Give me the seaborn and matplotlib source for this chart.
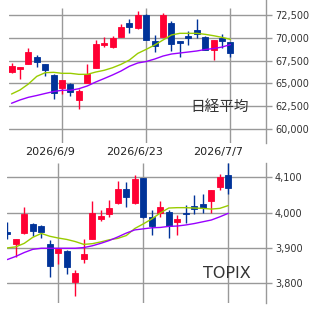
import numpy as np
import pandas as pd
import matplotlib
matplotlib.use("Agg")
import matplotlib.pyplot as plt
import matplotlib.transforms as mtransforms
from matplotlib.ticker import FuncFormatter
import seaborn as sns

# 営業日 2026/6/1 - 2026/7/7
dates = ["6/1", "6/2", "6/3", "6/4", "6/5", "6/8", "6/9", "6/10", "6/11", "6/12",
         "6/15", "6/16", "6/17", "6/18", "6/19", "6/22", "6/23", "6/24", "6/25", "6/26",
         "6/29", "6/30", "7/1", "7/2", "7/3", "7/6", "7/7"]
tick_dates = ["6/9", "6/23", "7/7"]
tick_labels = ["2026/6/9", "2026/6/23", "2026/7/7"]

# 日経平均
n225_open = [66290, 66580, 67160, 67890, 67130, 65930, 64540, 64940, 63230, 65050,
             66690, 69200, 68980, 70080, 71600, 71060, 72480, 69640, 70080, 71600,
             69640, 70220, 70870, 70110, 68690, 70000, 69530]
n225_close = [66900, 66800, 68440, 67350, 66470, 63990, 65380, 64100, 64180, 66030,
              69310, 69420, 69970, 71170, 71170, 72480, 69780, 69090, 72480, 69310,
              69420, 70000, 70440, 68690, 69780, 69670, 68330]
n225_high = [67240, 66820, 68880, 68110, 67150, 66040, 65400, 65060, 64400, 67130,
             69750, 70080, 70190, 71500, 72040, 72910, 72560, 70290, 72700, 71820,
             69660, 70760, 72070, 70220, 69800, 70440, 69560]
n225_low = [66110, 65490, 67120, 66800, 65820, 63340, 63880, 63670, 62250, 65030,
            66670, 68980, 68880, 70060, 70510, 70950, 69760, 68440, 70060, 68550,
            67890, 69240, 70000, 68670, 67600, 68910, 67890]
n225_ma_short = [63850, 64290, 64940, 65780, 66180, 66220, 66110, 66110, 66000, 66000,
                 66250, 66440, 66720, 67090, 67560, 68290, 68730, 69200, 69750, 70300,
                 70480, 70480, 70480, 70370, 70220, 70040, 69820]
n225_ma_long = [62840, 63200, 63490, 63690, 63910, 64120, 64260, 64260, 64430, 64730,
                65160, 65540, 65930, 66360, 66880, 67240, 67400, 67670, 68000, 68220,
                68330, 68440, 68550, 68710, 68820, 68980, 69250]

# TOPIX
topix_open = [3946, 3911, 3942, 3968, 3962, 3911, 3886, 3891, 3804, 3869,
              3925, 3982, 3996, 4027, 4067, 4027, 4098, 3988, 3999, 4002,
              3974, 3999, 4019, 4024, 4033, 4073, 4106]
topix_close = [3940, 3925, 3996, 3948, 3945, 3849, 3897, 3846, 3829, 3883,
               3999, 3990, 4013, 4067, 4044, 4095, 3988, 3962, 4016, 3962,
               3982, 3996, 4010, 4013, 4064, 4101, 4070]
topix_high = [3972, 3926, 4016, 3971, 3965, 3922, 3900, 3894, 3838, 3925,
              4033, 4008, 4036, 4090, 4087, 4107, 4099, 4008, 4033, 4008,
              3993, 4022, 4050, 4053, 4065, 4109, 4140]
topix_low = [3925, 3874, 3940, 3934, 3928, 3818, 3855, 3826, 3765, 3857,
             3924, 3976, 3988, 4024, 4016, 4024, 3986, 3937, 3988, 3928,
             3937, 3971, 3996, 3999, 3999, 4064, 4053]
topix_ma_short = [3900, 3903, 3913, 3930, 3941, 3933, 3928, 3924, 3918, 3910,
                  3912, 3917, 3923, 3927, 3935, 3955, 3968, 3982, 3999, 4013,
                  4014, 4014, 4013, 4012, 4010, 4012, 4020]
topix_ma_long = [3867, 3876, 3887, 3896, 3899, 3899, 3899, 3899, 3899, 3901,
                 3906, 3913, 3921, 3931, 3942, 3951, 3954, 3957, 3958, 3961,
                 3962, 3965, 3969, 3974, 3979, 3988, 3998]

UP = "#ff0033"
DOWN = "#003399"
MA_S = "#99cc00"
MA_L = "#9900ff"
GRID = "#999999"

sns.set_style("white")
plt.rcParams['font.family'] = ['DejaVu Sans', 'Noto Sans CJK JP']

W, H = 324, 309
fig = plt.figure(figsize=(W / 100, H / 100), dpi=100)


def px_axes(left, top, right, bottom):
    return fig.add_axes([left / W, 1 - bottom / H, (right - left) / W, (bottom - top) / H])


def draw_panel(ax, o, c, h, l, ma_s, ma_l, width):
    df = pd.DataFrame({"date": dates, "open": o, "close": c, "high": h, "low": l,
                       "ma_s": ma_s, "ma_l": ma_l})
    df["x"] = np.arange(len(df))
    df["up"] = df["close"] >= df["open"]
    col = np.where(df["up"], UP, DOWN)
    ax.vlines(df["x"], df["low"], df["high"], colors=col, lw=1, zorder=2)
    body = (df["close"] - df["open"]).abs()
    ax.bar(df["x"], body, bottom=df[["open", "close"]].min(axis=1), width=width,
           color=col, edgecolor=col, lw=0.6, zorder=3)
    sns.lineplot(data=df, x="x", y="ma_s", color=MA_S, lw=1, ax=ax, zorder=4)
    sns.lineplot(data=df, x="x", y="ma_l", color=MA_L, lw=1, ax=ax, zorder=4)
    return df


def style_axes(ax, yticks, fmt):
    ax.set_xlabel("")
    ax.set_ylabel("")
    for s in ["left", "top", "bottom"]:
        ax.spines[s].set_visible(False)
    ax.spines["right"].set_color(GRID)
    ax.spines["right"].set_linewidth(1)
    ax.yaxis.tick_right()
    ax.set_yticks(yticks)
    ax.yaxis.set_major_formatter(FuncFormatter(lambda v, p: fmt.format(int(v))))
    ax.tick_params(axis="y", length=4, width=1, color=GRID, pad=2.5,
                   labelsize=7, labelcolor="#333333")
    ax.grid(axis="y", color=GRID, lw=1)
    ax.set_axisbelow(True)


# 上: 日経平均
ax1 = px_axes(9, 0, 266, 143)
df1 = draw_panel(ax1, n225_open, n225_close, n225_high, n225_low,
                 n225_ma_short, n225_ma_long, 0.72)
ax1.set_xlim(-0.3, 30.23)
ax1.set_ylim(58500, 74120)
style_axes(ax1, [60000, 62500, 65000, 67500, 70000, 72500], "{:,}")
xt = [dates.index(d) for d in tick_dates]
ax1.vlines(xt, 58500, 73240, colors=GRID, lw=1, zorder=1)
ax1.set_xticks(xt)
ax1.set_xticklabels(tick_labels)
ax1.tick_params(axis="x", length=0, pad=3, labelsize=8, labelcolor="#222222")
shift = mtransforms.ScaledTranslation(-12 / 100, 0, fig.dpi_scale_trans)
for lab in ax1.get_xticklabels():
    lab.set_transform(lab.get_transform() + shift)
ax1.text(0.821, 0.255, "日経平均", transform=ax1.transAxes, ha="center", va="center",
         fontsize=10.5, color="#333333", family=['Noto Sans CJK JP', 'DejaVu Sans'])

# 下: TOPIX
ax2 = px_axes(6.7, 163, 266, 303)
df2 = draw_panel(ax2, topix_open, topix_close, topix_high, topix_low,
                 topix_ma_short, topix_ma_long, 0.75)
ax2.set_xlim(-0.07, 30.44)
ax2.set_ylim(3744, 4140.5)
style_axes(ax2, [3800, 3900, 4000, 4100], "{:,}")
ax2.vlines(xt, 3744, 4140.5, colors=GRID, lw=1, zorder=1)
ax2.set_xticks([])
ax2.text(0.848, 0.212, "TOPIX", transform=ax2.transAxes, ha="center", va="center",
         fontsize=11.5, color="#333333")

fig.savefig("out.png", dpi=100)
